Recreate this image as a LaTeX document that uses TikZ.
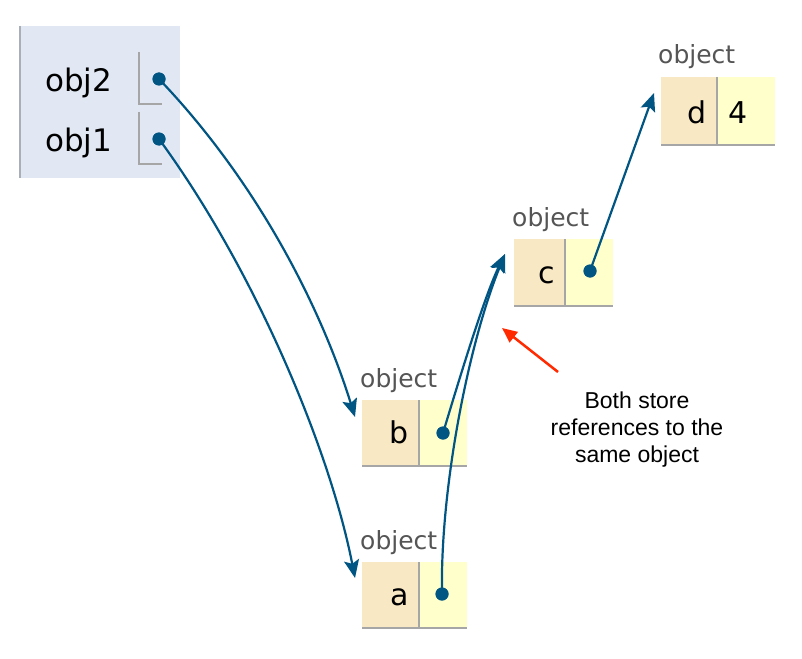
\documentclass[tikz,border=0pt]{standalone}
\usepackage{fontspec}
\setmainfont{DejaVu Sans}
\newfontfamily\annfont{Liberation Sans}
\usetikzlibrary{arrows.meta}
\definecolor{frameblue}{HTML}{E1E8F4}
\definecolor{framegray}{HTML}{A8AFB8}
\definecolor{lgray}{HTML}{A6A6A6}
\definecolor{keyfill}{HTML}{F9E8C4}
\definecolor{valfill}{HTML}{FFFFCC}
\definecolor{ptr}{HTML}{005583}
\definecolor{redarrow}{HTML}{FF2A00}
\definecolor{labgray}{HTML}{555555}
\begin{document}
\begin{tikzpicture}[x=1pt,y=-1pt,
  cell/.style={inner sep=0pt, outer sep=0pt, anchor=north west},
  keycell/.style={cell, fill=keyfill},
  valcell/.style={cell, fill=valfill},
  objlabel/.style={anchor=base west, inner sep=0pt, text=labgray, font=\fontsize{25}{30}\selectfont},
  celltext/.style={inner sep=0pt, font=\fontsize{30}{36}\selectfont},
  varname/.style={anchor=base west, inner sep=0pt, font=\fontsize{31}{36}\selectfont},
  ptrdot/.style={circle, fill=ptr, inner sep=0pt, minimum size=13pt},
  ptrline/.style={draw=ptr, line width=2.2pt, -{Stealth[length=18pt,width=15pt,inset=3.5pt]}},
  border/.style={draw=lgray, line width=2.5pt},
  lshape/.style={draw=lgray, line width=2pt},
]
\useasboundingbox (0,0) rectangle (802,658);
\fill[white] (0,0) rectangle (802,658);

% frame with variables
\node[cell, fill=frameblue, minimum width=160pt, minimum height=152pt] (frame) at (20,26) {};
\draw[draw=framegray, line width=2.5pt] (frame.north west) -- (frame.south west);
\node[varname] (n2) at (45,91.5) {obj2};
\node[varname] (n1) at (45,151.5) {obj1};
\coordinate (l2t) at (139,52);
\coordinate (l2b) at (139,104);
\coordinate (l2r) at (162,104);
\coordinate (l1t) at (139,112);
\coordinate (l1b) at (139,164);
\coordinate (l1r) at (162,164);
\draw[lshape] (l2t) -- (l2b) -- (l2r);
\draw[lshape] (l1t) -- (l1b) -- (l1r);

% object b
\node[objlabel] (lb) at (360,387) {object};
\node[keycell, minimum width=57pt, minimum height=66pt] (bk) at (362,400) {};
\node[valcell, minimum width=48pt, minimum height=66pt] (bv) at (419,400) {};
\draw[border] (bk.north east) -- (bk.south east);
\draw[border] (bk.south west) -- (bv.south east);
\node[celltext, anchor=base east] (bt) at ([xshift=-10pt]bk.east |- 0,443) {b};

% object a
\node[objlabel] (la) at (360,549) {object};
\node[keycell, minimum width=57pt, minimum height=66pt] (ak) at (362,562) {};
\node[valcell, minimum width=48pt, minimum height=66pt] (av) at (419,562) {};
\draw[border] (ak.north east) -- (ak.south east);
\draw[border] (ak.south west) -- (av.south east);
\node[celltext, anchor=base east] (at) at ([xshift=-10pt]ak.east |- 0,605) {a};

% object c
\node[objlabel] (lc) at (512,226) {object};
\node[keycell, minimum width=51pt, minimum height=67pt] (ck) at (514,239) {};
\node[valcell, minimum width=48pt, minimum height=67pt] (cv) at (565,239) {};
\draw[border] (ck.north east) -- (ck.south east);
\draw[border] (ck.south west) -- (cv.south east);
\node[celltext, anchor=base east] (ct) at ([xshift=-10pt]ck.east |- 0,283) {c};

% object d
\node[objlabel] (ld) at (658,64) {object};
\node[keycell, minimum width=56pt, minimum height=68pt] (dk) at (661,77) {};
\node[valcell, minimum width=58pt, minimum height=68pt] (dv) at (717,77) {};
\draw[border] (dk.north east) -- (dk.south east);
\draw[border] (dk.south west) -- (dv.south east);
\node[celltext, anchor=base east] (dt) at ([xshift=-10pt]dk.east |- 0,123) {d};
\node[celltext, anchor=base west] (dval) at ([xshift=11pt]dv.west |- 0,123) {4};

% pointer dots
\node[ptrdot] (p2) at (159,79) {};
\node[ptrdot] (p1) at (159,139) {};
\node[ptrdot] (pb) at (443,433) {};
\node[ptrdot] (pa) at (442,594) {};
\node[ptrdot] (pc) at (590,271) {};

% arrow targets
\coordinate (tb) at (355,417);
\coordinate (ta) at (355,578);
\coordinate (tc) at (505,254);
\coordinate (td) at (654,93);

% pointer arrows
\draw[ptrline] (p2.center) .. controls (265,190) and (325,320) .. (tb);
\draw[ptrline] (p1.center) .. controls (255,270) and (330,450) .. (ta);
\draw[ptrline] (pb.center) .. controls (462,370) and (485,295) .. (tc);
\draw[ptrline] (pa.center) .. controls (440,490) and (468,345) .. (tc);
\draw[ptrline] (pc.center) -- (td);
\node[ptrdot] at (p2) {};
\node[ptrdot] at (p1) {};
\node[ptrdot] at (pb) {};
\node[ptrdot] at (pa) {};
\node[ptrdot] at (pc) {};

% annotation
\node[inner sep=0pt, align=center, font=\annfont\fontsize{23}{27}\selectfont] (note) at (637,430) {Both store\\references to the\\same object};
\coordinate (rtail) at (558,372);
\coordinate (rtip) at (502,328);
\draw[draw=redarrow, line width=2.5pt, -{Triangle[length=15pt,width=13pt]}] (rtail) -- (rtip);
\end{tikzpicture}
\end{document}
